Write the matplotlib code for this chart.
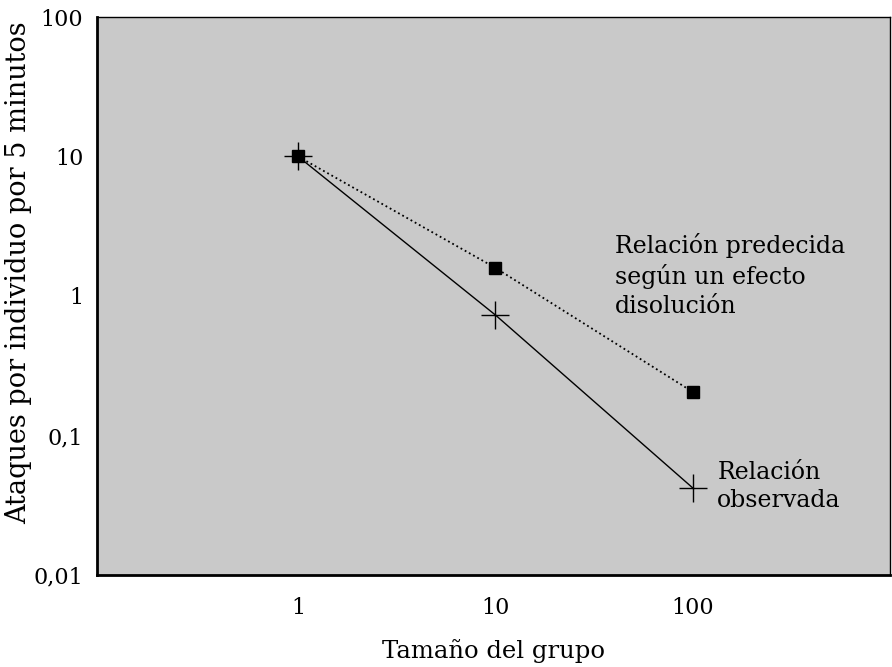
import matplotlib.pyplot as plt

group_size = [1, 10, 100]
predicted = [10, 1.59, 0.205]
observed = [10, 0.73, 0.042]

x_ticks = [1, 10, 100]
x_labels = ['1', '10', '100']
y_ticks = [0.01, 0.1, 1, 10, 100]
y_labels = ['0,01', '0,1', '1', '10', '100']

plt.rcParams['font.family'] = ['DejaVu Serif']

fig = plt.figure(figsize=(8.92, 6.67), dpi=100)
ax = fig.add_axes([0.109, 0.138, 0.889, 0.8365])
ax.set_facecolor('#c9c9c9')

ax.plot(group_size, predicted, color='black', linestyle=':', linewidth=1.3,
        marker='s', markersize=8)
ax.plot(group_size, observed, color='black', linestyle='-', linewidth=1.0,
        marker='+', markersize=20, markeredgewidth=1.0)

ax.set_xscale('log')
ax.set_yscale('log')
ax.set_xlim(0.096, 1000)
ax.set_ylim(0.01, 100)

ax.set_xticks(x_ticks)
ax.set_xticklabels(x_labels, fontsize=16)
ax.set_yticks(y_ticks)
ax.set_yticklabels(y_labels, fontsize=16)
ax.minorticks_off()
ax.tick_params(length=0, pad=10)
ax.tick_params(axis='x', pad=16)

for side in ['left', 'bottom']:
    ax.spines[side].set_linewidth(2)
for side in ['top', 'right']:
    ax.spines[side].set_linewidth(1)

ax.set_xlabel('Tamaño del grupo', fontsize=17.5, labelpad=14)
ax.set_ylabel('Ataques por individuo por 5 minutos', fontsize=19.5)
ax.yaxis.set_label_coords(-0.082, 0.541)

ax.text(0.653, 0.612, 'Relación predecida\nsegún un efecto\ndisolución',
        transform=ax.transAxes, fontsize=17, va='top', linespacing=1.3)
ax.text(0.782, 0.205, 'Relación\nobservada',
        transform=ax.transAxes, fontsize=17, va='top', linespacing=1.3)

fig.savefig('out.png', dpi=100)
